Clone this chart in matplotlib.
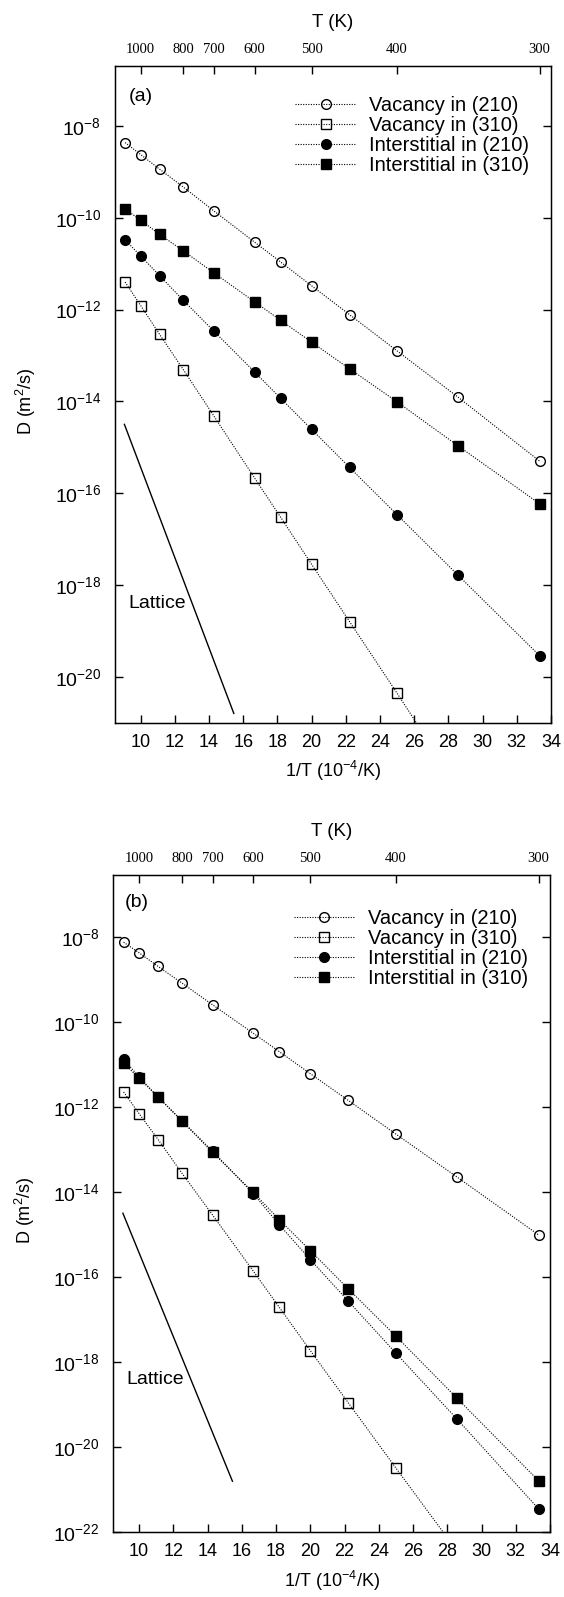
import numpy as np
import matplotlib
matplotlib.use("Agg")
import matplotlib.pyplot as plt

plt.rcParams["font.family"] = ["Liberation Sans", "DejaVu Sans"]
plt.rcParams["mathtext.fontset"] = "custom"
plt.rcParams["mathtext.rm"] = "Liberation Sans"
plt.rcParams["mathtext.it"] = "Liberation Sans:italic"
plt.rcParams["mathtext.default"] = "regular"

# temperatures of the data points (K)
temps = np.array([1100, 1000, 900, 800, 700, 600, 550, 500, 450, 400, 350, 300])
top_T = [1000, 800, 700, 600, 500, 400, 300]

# log10 of D (m^2/s)
vac210_a = [-8.36, -8.62, -8.94, -9.33, -9.85, -10.53, -10.96, -11.48, -12.11, -12.90, -13.91, -15.30]
vac310_a = [-11.40, -11.91, -12.54, -13.31, -14.32, -15.67, -16.52, -17.55, -18.80, -20.36, -22.40, -25.10]
int210_a = [-10.48, -10.83, -11.26, -11.80, -12.47, -13.36, -13.93, -14.61, -15.44, -16.47, -17.79, -19.54]
int310_a = [-9.81, -10.05, -10.36, -10.72, -11.20, -11.83, -12.23, -12.71, -13.29, -14.01, -14.97, -16.23]

vac210_b = [-8.13, -8.38, -8.70, -9.09, -9.60, -10.27, -10.70, -11.22, -11.85, -12.64, -13.65, -15.01]
vac310_b = [-11.65, -12.16, -12.77, -13.56, -14.54, -15.86, -16.71, -17.73, -18.96, -20.49, -22.44, -25.05]
int210_b = [-10.88, -11.30, -11.77, -12.33, -13.04, -14.04, -14.77, -15.59, -16.57, -17.79, -19.34, -21.45]
int310_b = [-10.97, -11.33, -11.77, -12.33, -13.07, -14.01, -14.65, -15.38, -16.28, -17.39, -18.85, -20.79]

# lattice diffusion line (1/T in 1e-4/K, log10 D)
lattice_x = [9.05, 15.45]
lattice_logd = [-14.5, -20.8]

labels = ["Vacancy in (210)", "Vacancy in (310)", "Interstitial in (210)", "Interstitial in (310)"]
markers = ["o", "s", "o", "s"]
faces = ["none", "none", "black", "black"]


def draw_panel(ax, series, ylim, yticks, tag, tag_xy, leg_anchor):
    x = 1e4 / temps
    for vals, m, fc, lab in zip(series, markers, faces, labels):
        ax.plot(x, 10.0 ** np.array(vals), ls=(0, (1, 1.3)), lw=0.8, color="black",
                marker=m, ms=7, mfc=fc, mec="black", mew=1.0, label=lab)
    ax.plot(lattice_x, 10.0 ** np.array(lattice_logd), color="black", lw=1.0)

    ax.set_yscale("log")
    ax.set_xlim(8.5, 34)
    ax.set_ylim(*ylim)
    ax.set_xticks(np.arange(10, 35, 2))
    ax.set_yticks(yticks)
    ax.minorticks_off()
    ax.tick_params(direction="in", length=5.8, width=1.0, right=True, top=False)
    ax.tick_params(axis="x", labelsize=13, pad=8)
    ax.tick_params(axis="y", labelsize=14, pad=10)
    for s in ax.spines.values():
        s.set_linewidth(1.0)

    ax.set_xlabel(r"1/T (10$^{-4}$/K)", fontsize=13, labelpad=6)
    ax.set_ylabel(r"D (m$^2$/s)", fontsize=13)
    ax.yaxis.set_label_coords(-0.176, 0.49)

    ax.text(tag_xy[0], 10 ** tag_xy[1], tag, fontsize=14, ha="left", va="center")
    ax.text(9.28, 10 ** -18.4, "Lattice", fontsize=14, ha="left", va="center")

    ax.legend(loc="upper left", bbox_to_anchor=leg_anchor, frameon=False, fontsize=14.5,
              handlelength=3.0, handletextpad=0.66, labelspacing=0.04,
              borderpad=0, borderaxespad=0)

    top = ax.twiny()
    top.set_xlim(ax.get_xlim())
    top.set_xticks([1e4 / t for t in top_T])
    top.set_xticklabels([str(t) for t in top_T], fontfamily="Liberation Serif", fontsize=10.5)
    top.tick_params(direction="in", length=5.8, width=1.0, pad=7)
    top.set_xlabel("T (K)", fontsize=13.5, labelpad=11.5)


fig = plt.figure(figsize=(5.64, 15.97), dpi=100)
ax_a = fig.add_axes([0.2039, 0.5475, 0.7730, 0.4112])
ax_b = fig.add_axes([0.2012, 0.0405, 0.7740, 0.4116])

draw_panel(ax_a, [vac210_a, vac310_a, int210_a, int310_a], (1e-21, 10 ** -6.69),
           [10.0 ** k for k in range(-20, -7, 2)], "(a)", (9.3, -7.36), (0.414, 0.954))
draw_panel(ax_b, [vac210_b, vac310_b, int210_b, int310_b], (1e-22, 10 ** -6.55),
           [10.0 ** k for k in range(-22, -7, 2)], "(b)", (9.17, -7.19), (0.4135, 0.9476))

fig.savefig("out.png", dpi=100)
